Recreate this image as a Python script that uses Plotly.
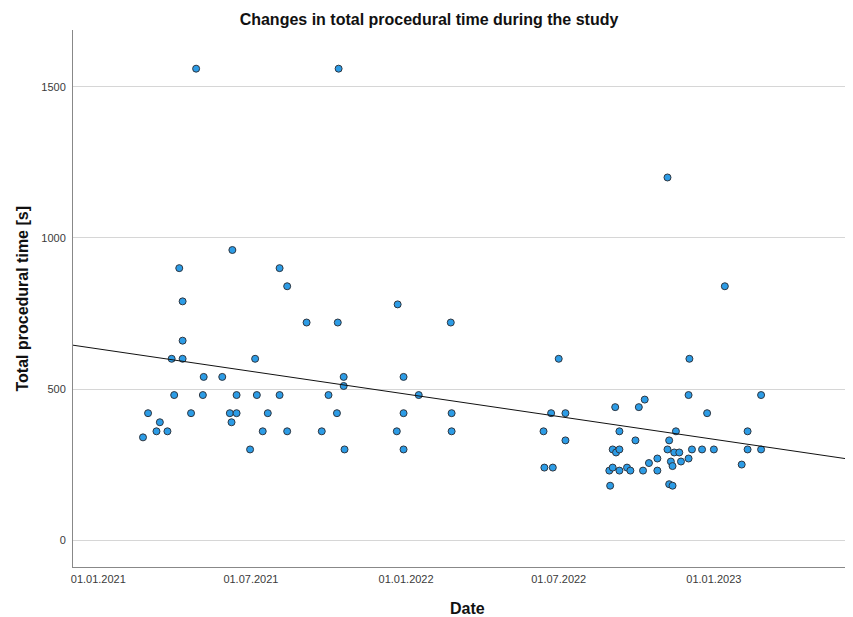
import plotly.graph_objects as go

# ---- data ----
dates = [
    "2021-02-23", "2021-03-01", "2021-03-11", "2021-03-15", "2021-03-24", "2021-03-29",
    "2021-04-01", "2021-04-07", "2021-04-11", "2021-04-11", "2021-04-11", "2021-04-21",
    "2021-04-27", "2021-05-05", "2021-05-06", "2021-05-28", "2021-06-06", "2021-06-08",
    "2021-06-09", "2021-06-14", "2021-06-14", "2021-06-30", "2021-07-06", "2021-07-08",
    "2021-07-15", "2021-07-21", "2021-08-04", "2021-08-04", "2021-08-13", "2021-08-13",
    "2021-09-05", "2021-09-23", "2021-10-01", "2021-10-11", "2021-10-12", "2021-10-13",
    "2021-10-19", "2021-10-19", "2021-10-20", "2021-12-21", "2021-12-22", "2021-12-29",
    "2021-12-29", "2021-12-29", "2022-01-16", "2022-02-23", "2022-02-24", "2022-02-24",
    "2022-06-13", "2022-06-14", "2022-06-22", "2022-06-24", "2022-07-01", "2022-07-09",
    "2022-07-09", "2022-08-30", "2022-08-31", "2022-09-03", "2022-09-03", "2022-09-06",
    "2022-09-07", "2022-09-11", "2022-09-11", "2022-09-11", "2022-09-20", "2022-09-24",
    "2022-09-30", "2022-10-04", "2022-10-09", "2022-10-11", "2022-10-16", "2022-10-26",
    "2022-10-26", "2022-11-07", "2022-11-07", "2022-11-09", "2022-11-09", "2022-11-11",
    "2022-11-13", "2022-11-13", "2022-11-15", "2022-11-17", "2022-11-21", "2022-11-23",
    "2022-12-02", "2022-12-02", "2022-12-03", "2022-12-06", "2022-12-18", "2022-12-24",
    "2023-01-01", "2023-01-14", "2023-02-03", "2023-02-10", "2023-02-10", "2023-02-26",
    "2023-02-26",
]
times = [
    340, 420, 360, 390, 360, 600,
    480, 900, 660, 600, 790, 420,
    1560, 480, 540, 540, 420, 390,
    960, 420, 480, 300, 600, 480,
    360, 420, 900, 480, 840, 360,
    720, 360, 480, 420, 720, 1560,
    540, 510, 300, 360, 780, 540,
    420, 300, 480, 720, 420, 360,
    360, 240, 420, 240, 600, 420,
    330, 230, 180, 300, 240, 440,
    290, 360, 300, 230, 240, 230,
    330, 440, 230, 465, 255, 270,
    230, 300, 1200, 330, 185, 260,
    245, 180, 290, 360, 290, 260,
    270, 480, 600, 300, 300, 420,
    300, 840, 250, 360, 300, 480,
    300,
]

# linear fit line (end points)
fit_dates = ["2020-12-02", "2023-06-15"]
fit_values = [645, 266]

tick_dates = ["2021-01-01", "2021-07-01", "2022-01-01", "2022-07-01", "2023-01-01"]
tick_labels = ["01.01.2021", "01.07.2021", "01.01.2022", "01.07.2022", "01.01.2023"]
y_ticks = [0, 500, 1000, 1500]

x_range = ["2020-12-02", "2023-06-15"]
y_range = [-89, 1688]

FONT = "Liberation Sans, Arial, sans-serif"

# the page body adds an 8px margin, so the figure is 8px smaller and everything is shifted
W, H = 845, 609
ML, MT, MB = 65, 22, 50
PW, PH = W - ML, H - MT - MB

fig = go.Figure()
fig.add_trace(go.Scatter(
    x=dates, y=times, mode="markers",
    marker=dict(size=7, color="#2c9ce6", line=dict(color="#2f3640", width=1)),
    showlegend=False, hoverinfo="x+y",
))
fig.add_trace(go.Scatter(
    x=fit_dates, y=fit_values, mode="lines",
    line=dict(color="#111111", width=1),
    showlegend=False, hoverinfo="skip",
))

fig.update_layout(
    width=W, height=H,
    margin=dict(l=ML, r=0, t=MT, b=MB, autoexpand=False),
    paper_bgcolor="white", plot_bgcolor="white",
    font=dict(family=FONT, color="#333333"),
    title=dict(
        text="<b>Changes in total procedural time during the study</b>",
        font=dict(family=FONT, size=16, color="#111111"),
        x=421 / W, xref="container", xanchor="center",
        y=1 - 11 / H, yref="container", yanchor="middle",
    ),
    annotations=[
        dict(text="<b>Date</b>", xref="paper", yref="paper",
             x=394 / PW, y=-41 / PH,
             xanchor="center", yanchor="middle", showarrow=False,
             font=dict(family=FONT, size=16, color="#111111")),
        dict(text="<b>Total procedural time [s]</b>", xref="paper", yref="paper",
             x=-51 / PW, y=0.5, textangle=-90,
             xanchor="center", yanchor="middle", showarrow=False,
             font=dict(family=FONT, size=16, color="#111111")),
    ],
)
fig.update_xaxes(
    type="date", range=x_range, automargin=False,
    tickvals=tick_dates, ticktext=tick_labels,
    tickfont=dict(size=11, color="#3a3a3a"),
    showgrid=False, zeroline=False,
    showline=True, linecolor="#888888", linewidth=1,
    ticks="", ticklabelstandoff=2,
)
fig.update_yaxes(
    range=y_range, automargin=False,
    tickvals=y_ticks, ticktext=[str(v) for v in y_ticks],
    tickfont=dict(size=11, color="#3a3a3a"),
    showgrid=True, gridcolor="#d6d6d6", gridwidth=1.3,
    zeroline=False,
    showline=True, linecolor="#888888", linewidth=1,
    ticks="", ticklabelstandoff=4,
)

fig.write_html("out.html")
